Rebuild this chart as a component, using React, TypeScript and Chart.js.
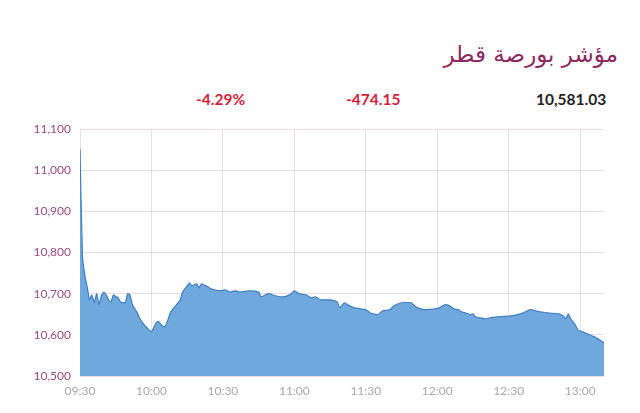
import React, { useEffect, useRef } from "react";
import { Chart, registerables } from "chart.js";

Chart.register(...registerables);

const titleText = "مؤشر بورصة قطر";
const changePct = "-4.29%";
const changePts = "-474.15";
const lastValue = "10,581.03";

const times = [
  "09:30","09:31","09:32","09:33","09:34","09:35","09:36","09:37","09:38","09:39",
  "09:40","09:41","09:42","09:43","09:44","09:45","09:46","09:47","09:49","09:50",
  "09:51","09:52","09:54","09:55","09:57","09:59","10:00","10:02","10:03","10:05",
  "10:06","10:08","10:10","10:12","10:13","10:15","10:16","10:17","10:19","10:20",
  "10:21","10:23","10:25","10:27","10:29","10:31","10:33","10:35","10:37","10:41",
  "10:45","10:46","10:49","10:52","10:55","10:58","11:00","11:02","11:05","11:07",
  "11:09","11:11","11:15","11:18","11:19","11:21","11:23","11:25","11:28","11:30",
  "11:32","11:35","11:37","11:40","11:42","11:45","11:49","11:51","11:53","11:55",
  "11:59","12:01","12:03","12:05","12:07","12:09","12:10","12:12","12:14","12:15",
  "12:16","12:18","12:20","12:22","12:26","12:31","12:35","12:37","12:39","12:43",
  "12:47","12:51","12:53","12:54","12:55","12:56","12:58","12:59","13:02","13:06",
  "13:10"
];

const values = [
  11051,10795,10745,10717,10686,10697,10678,10700,10674,10695,
  10704,10697,10685,10680,10697,10693,10690,10680,10678,10700,
  10697,10673,10654,10641,10624,10612,10607,10630,10632,10620,
  10622,10655,10670,10684,10703,10719,10726,10719,10724,10714,
  10724,10719,10712,10709,10707,10709,10704,10707,10704,10707,
  10704,10692,10700,10695,10692,10697,10707,10700,10697,10690,
  10692,10685,10685,10680,10666,10678,10671,10666,10663,10661,
  10653,10649,10658,10661,10671,10678,10678,10668,10663,10661,
  10663,10666,10673,10671,10663,10661,10656,10653,10649,10651,
  10644,10641,10639,10641,10644,10646,10651,10656,10661,10656,
  10653,10651,10645,10639,10651,10639,10624,10612,10605,10595,
  10581.03
];

const yTicks = [10500, 10600, 10700, 10800, 10900, 11000, 11100];
const xTickLabels = ["09:30","10:00","10:30","11:00","11:30","12:00","12:30","13:00"];

const toMin = (s: string) => {
  const [h, m] = s.split(":").map(Number);
  return h * 60 + m - (9 * 60 + 30);
};
const fmtMin = (v: number) => {
  const t = 9 * 60 + 30 + v;
  const h = Math.floor(t / 60);
  const m = t % 60;
  return String(h).padStart(2, "0") + ":" + String(m).padStart(2, "0");
};

export default function App() {
  const ref = useRef<HTMLCanvasElement | null>(null);

  useEffect(() => {
    document.body.style.margin = "0";
    const ctx = ref.current!;
    const points = times.map((t, i) => ({ x: toMin(t), y: values[i] }));
    const chart = new Chart(ctx, {
      type: "line",
      data: {
        datasets: [
          {
            data: points,
            borderColor: "#3f7fbf",
            borderWidth: 1.2,
            backgroundColor: "#6fa8dc",
            fill: "start",
            pointRadius: 0,
            tension: 0.15,
          },
        ],
      },
      options: {
        animation: false,
        responsive: false,
        maintainAspectRatio: false,
        layout: { padding: { top: 129, right: 36, left: 0, bottom: 0 } },
        plugins: { legend: { display: false }, tooltip: { enabled: false } },
        scales: {
          x: {
            type: "linear",
            min: 0,
            max: 220,
            afterFit: (s: any) => { s.height = 37; },
            afterBuildTicks: (s: any) => {
              s.ticks = xTickLabels.map((l) => ({ value: toMin(l) }));
            },
            ticks: {
              callback: (v: any) => fmtMin(Number(v)),
              color: "#a8a8a8",
              font: { family: "Lato", size: 12 },
              padding: 8,
              maxRotation: 0,
            },
            grid: { color: "rgba(200,200,200,0.55)", drawTicks: false },
            border: { display: false },
          },
          y: {
            min: 10500,
            max: 11100,
            afterFit: (s: any) => { s.width = 80; },
            afterBuildTicks: (s: any) => {
              s.ticks = yTicks.map((v) => ({ value: v }));
            },
            ticks: {
              callback: (v: any) => Number(v).toLocaleString("en-US"),
              color: "#9b4a7c",
              font: { family: "Lato", size: 12 },
              padding: 9,
            },
            grid: { color: "rgba(225,195,210,0.6)", drawTicks: false },
            border: { display: false },
          },
        },
      },
    });
    return () => chart.destroy();
  }, []);

  const statStyle: React.CSSProperties = {
    position: "absolute",
    top: 89,
    fontFamily: "Lato, sans-serif",
    fontWeight: 700,
    fontSize: 15.5,
    lineHeight: "20px",
    whiteSpace: "nowrap",
  };

  return (
    <div style={{ position: "relative", width: 640, height: 413, background: "#fff", overflow: "hidden" }}>
      <div
        dir="rtl"
        style={{
          position: "absolute",
          right: 22,
          top: 36,
          fontFamily: "'DejaVu Sans', sans-serif",
          fontSize: 23,
          lineHeight: "36px",
          color: "#8c2a60",
          whiteSpace: "nowrap",
        }}
      >
        {titleText}
      </div>
      <div style={{ ...statStyle, left: 196, color: "#d21f3c" }}>{changePct}</div>
      <div style={{ ...statStyle, left: 346, color: "#d21f3c" }}>{changePts}</div>
      <div style={{ ...statStyle, left: 536, color: "#222" }}>{lastValue}</div>
      <canvas ref={ref} width={640} height={413} style={{ position: "absolute", left: 0, top: 0 }} />
    </div>
  );
}
